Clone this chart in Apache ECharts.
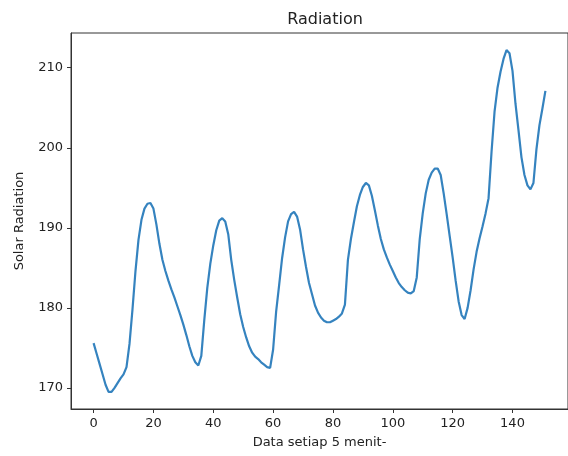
<!DOCTYPE html>
<html>
<head>
<meta charset="utf-8">
<script src="https://cdn.jsdelivr.net/npm/echarts@6/dist/echarts.min.js"></script>
<style>
  html, body { margin: 0; padding: 0; background: #fff; }
  #chart { width: 568px; height: 456px; }
</style>
</head>
<body>
<div id="chart"></div>
<script>
// readings, one every 5 minutes (index 0..151)
var radiation = [
    175.6, 174.3, 173.0, 171.7, 170.4, 169.5, 169.5, 170.0, 170.6, 171.2,
    171.7, 172.6, 175.5, 179.8, 184.6, 188.5, 191.0, 192.4, 193.0, 193.1,
    192.4, 190.4, 188.0, 186.0, 184.6, 183.4, 182.3, 181.3, 180.2, 179.1,
    177.9, 176.6, 175.2, 174.0, 173.2, 172.8, 174.0, 178.5, 182.5, 185.5,
    187.8, 189.7, 190.9, 191.2, 190.8, 189.2, 186.0, 183.5, 181.3, 179.2,
    177.6, 176.3, 175.2, 174.4, 173.9, 173.6, 173.2, 172.9, 172.6, 172.5,
    174.8, 179.5, 182.8, 186.2, 188.8, 190.8, 191.7, 192.0, 191.4, 189.8,
    187.3, 185.1, 183.1, 181.7, 180.3, 179.4, 178.8, 178.4, 178.2, 178.2,
    178.4, 178.6, 178.9, 179.3, 180.4, 186.0, 188.6, 190.7, 192.7, 194.1,
    195.1, 195.6, 195.3, 194.0, 192.2, 190.3, 188.6, 187.3, 186.3, 185.4,
    184.6, 183.8, 183.1, 182.6, 182.2, 181.9, 181.8, 182.1, 183.8, 188.6,
    191.8, 194.3, 196.0, 196.9, 197.4, 197.4, 196.6, 194.3, 191.7, 189.0,
    186.3, 183.4, 180.8, 179.1, 178.6, 180.0, 182.2, 184.8, 187.0, 188.7,
    190.2, 191.8, 193.7, 199.5, 204.5, 207.5, 209.5, 211.1, 212.2, 211.8,
    209.6, 205.5, 202.2, 198.8, 196.6, 195.3, 194.8, 195.6, 199.8, 202.8,
    204.9, 207.1
];
var xTicks = [0, 20, 40, 60, 80, 100, 120, 140];
var yTicks = [170, 180, 190, 200, 210];

var titleText = 'Radiation';
var xName = 'Data setiap 5 menit-';
var yName = 'Solar Radiation';

var points = radiation.map(function (v, i) { return [i, v]; });

// matplotlib style 5% margins
var xLo = 0, xHi = radiation.length - 1;
var yLo = Math.min.apply(null, radiation), yHi = Math.max.apply(null, radiation);
var xPad = (xHi - xLo) * 0.05, yPad = (yHi - yLo) * 0.05;

var font = 'DejaVu Sans';
var chart = echarts.init(document.getElementById('chart'));

var option = {
    animation: false,
    backgroundColor: '#fff',
    title: {
        text: titleText,
        left: 320,
        top: 7,
        textAlign: 'center',
        textStyle: { fontFamily: font, fontSize: 16, fontWeight: 'normal', color: '#222' }
    },
    grid: {
        left: 71, top: 33, width: 504, height: 376,
        show: true, borderColor: '#333', borderWidth: 1, backgroundColor: 'transparent'
    },
    xAxis: {
        type: 'value',
        min: xLo - xPad,
        max: xHi + xPad,
        name: xName,
        nameLocation: 'middle',
        nameGap: 27,
        nameTextStyle: { fontFamily: font, fontSize: 13, color: '#222' },
        axisLine: { show: true, onZero: false, lineStyle: { color: '#333', width: 1 } },
        axisTick: { show: true, length: 4, customValues: xTicks, lineStyle: { color: '#333' } },
        axisLabel: { customValues: xTicks, margin: 8, fontFamily: font, fontSize: 13, color: '#222' },
        splitLine: { show: false }
    },
    yAxis: {
        type: 'value',
        min: yLo - yPad,
        max: yHi + yPad,
        name: yName,
        nameLocation: 'middle',
        nameGap: 45,
        nameTextStyle: { fontFamily: font, fontSize: 13, color: '#222' },
        axisLine: { show: true, onZero: false, lineStyle: { color: '#333', width: 1 } },
        axisTick: { show: true, length: 4, customValues: yTicks, lineStyle: { color: '#333' } },
        axisLabel: { customValues: yTicks, margin: 8, fontFamily: font, fontSize: 13, color: '#222' },
        splitLine: { show: false }
    },
    series: [{
        type: 'line',
        data: points,
        showSymbol: false,
        smooth: false,
        lineStyle: { color: '#3583bf', width: 2.2 },
        itemStyle: { color: '#3583bf' }
    }]
};

chart.setOption(option);
</script>
</body>
</html>
